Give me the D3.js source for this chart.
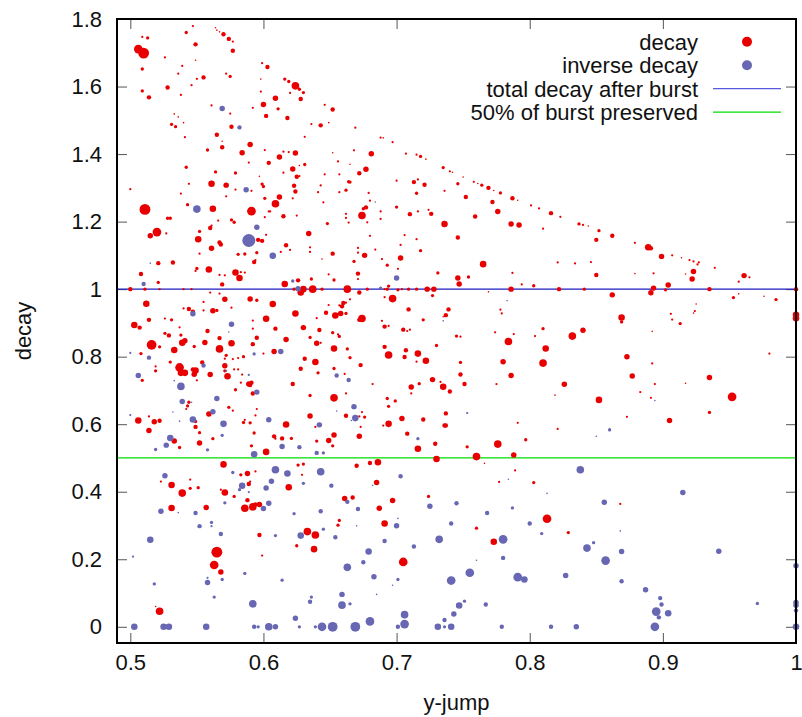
<!DOCTYPE html>
<html>
<head>
<meta charset="utf-8">
<script src="https://cdnjs.cloudflare.com/ajax/libs/d3/7.8.5/d3.min.js"></script>
<style>
  body { margin: 0; background: #fff; }
  svg { display: block; font-family: "Liberation Sans", Arial, Helvetica, sans-serif; }
</style>
</head>
<body>
<div class="vis-container"></div>
<script>
// data: [y-jump, decay, weight]
const decayPoints = [
  [0.547,1.779,1],[0.509,1.747,1],[0.513,1.744,1.5],[0.542,1.760,1.5],[0.564,1.774,0.7],[0.565,1.767,0.7],[0.567,1.762,0.7],[0.570,1.755,2],[0.574,1.741,2],[0.577,1.733,1],
  [0.506,1.711,4],[0.510,1.699,5],[0.577,1.706,2],[0.549,1.725,2],[0.526,1.686,1],[0.549,1.678,0.7],[0.509,1.652,1.5],[0.539,1.661,1],[0.536,1.638,1],[0.555,1.627,2],
  [0.550,1.623,1],[0.572,1.638,1],[0.575,1.630,1.5],[0.599,1.669,1],[0.603,1.658,2],[0.598,1.622,0.7],[0.616,1.622,1.5],[0.619,1.615,1.5],[0.624,1.602,3.5],[0.627,1.592,1.5],
  [0.630,1.582,1.5],[0.628,1.563,2],[0.546,1.604,1],[0.528,1.597,2],[0.509,1.587,1.5],[0.514,1.568,2],[0.538,1.575,1],[0.598,1.585,1],[0.620,1.581,1],[0.609,1.565,2.5],
  [0.600,1.547,2.5],[0.611,1.534,1.5],[0.602,1.513,2],[0.618,1.507,2],[0.646,1.546,1],[0.652,1.532,2],[0.561,1.544,1],[0.592,1.537,1],[0.575,1.520,1],[0.533,1.519,0.7],
  [0.536,1.510,0.7],[0.540,1.493,0.7],[0.531,1.488,1.5],[0.534,1.481,1.5],[0.576,1.481,2],[0.636,1.489,1],[0.643,1.485,2],[0.649,1.493,0.7],[0.565,1.457,2],[0.541,1.450,1],
  [0.631,1.451,1],[0.569,1.438,0.7],[0.569,1.420,2],[0.590,1.428,2.5],[0.558,1.412,1.5],[0.584,1.404,2.5],[0.601,1.412,1],[0.615,1.407,1],[0.619,1.406,1],[0.624,1.403,2.5],
  [0.612,1.391,2.5],[0.652,1.404,0.7],[0.589,1.375,1],[0.604,1.374,2],[0.656,1.378,1],[0.542,1.361,1.5],[0.564,1.347,1.5],[0.579,1.344,1.5],[0.622,1.356,2.5],[0.627,1.366,0.7],
  [0.631,1.369,1.5],[0.615,1.345,1],[0.625,1.333,2],[0.627,1.335,1],[0.597,1.334,0.7],[0.646,1.340,1],[0.657,1.340,1],[0.664,1.318,1.5],[0.544,1.312,1],[0.561,1.312,3],
  [0.572,1.308,2.5],[0.599,1.311,1.5],[0.600,1.304,1.5],[0.623,1.306,2],[0.624,1.289,2],[0.643,1.307,1],[0.641,1.287,1],[0.657,1.287,1],[0.662,1.293,1.5],
  [0.579,1.295,1],[0.591,1.291,1],[0.500,1.296,1],[0.538,1.283,1],[0.572,1.275,1],[0.601,1.269,1.5],[0.612,1.273,2.5],[0.622,1.269,1],[0.609,1.253,3.5],[0.543,1.250,1.5],
  [0.645,1.257,1],[0.511,1.236,5],[0.562,1.238,3],[0.591,1.231,4],[0.615,1.216,2],[0.604,1.230,1],[0.625,1.218,1],[0.662,1.223,1],
  [0.669,1.478,1],[0.688,1.449,1],[0.690,1.448,0.7],[0.697,1.435,1],[0.668,1.411,1],[0.681,1.401,2.5],[0.707,1.401,1],[0.715,1.398,1],[0.718,1.393,1.5],[0.722,1.385,0.7],
  [0.665,1.370,0.7],[0.677,1.355,2.5],[0.672,1.343,2],[0.735,1.360,1.5],[0.740,1.349,1],[0.742,1.346,0.7],[0.665,1.317,1.5],[0.700,1.321,1],[0.713,1.317,2],[0.716,1.325,1],
  [0.721,1.309,2],[0.746,1.312,1.5],[0.750,1.332,0.7],[0.758,1.318,1],[0.761,1.313,0.7],[0.764,1.308,1.5],[0.769,1.300,2],[0.773,1.292,0.7],[0.778,1.285,1.5],[0.787,1.269,2],
  [0.791,1.263,0.7],[0.736,1.291,1],[0.679,1.285,1],[0.715,1.284,1.5],[0.752,1.273,2],[0.680,1.262,1],[0.772,1.258,2],[0.801,1.248,1],[0.807,1.239,1],[0.816,1.225,2],
  [0.823,1.214,1],[0.776,1.230,2.5],[0.677,1.242,2],[0.675,1.238,1.5],[0.674,1.218,3.5],[0.688,1.230,1],[0.700,1.243,1.5],[0.716,1.230,1],[0.710,1.222,2],[0.724,1.235,1],
  [0.726,1.223,2],[0.662,1.211,1],[0.688,1.208,1],[0.759,1.215,2],
  [0.528,1.210,1.5],[0.530,1.210,1.5],[0.520,1.169,4],[0.515,1.158,2.5],[0.527,1.165,1],[0.551,1.148,3],[0.552,1.171,1.5],[0.560,1.181,2],[0.561,1.188,1],[0.566,1.203,1],
  [0.576,1.205,1.5],[0.578,1.198,1.5],[0.601,1.213,1],[0.605,1.230,1],[0.648,1.194,1.5],[0.664,1.197,1],[0.634,1.165,2.5],[0.596,1.146,2],[0.599,1.143,2],[0.602,1.161,1],
  [0.567,1.138,2],[0.568,1.132,2],[0.561,1.121,2.5],[0.581,1.103,1.5],[0.586,1.104,1.5],[0.595,1.108,1.5],[0.617,1.130,2],[0.620,1.116,1],[0.635,1.124,1],[0.635,1.110,1],
  [0.613,1.110,1],[0.652,1.105,2],[0.521,1.077,2],[0.532,1.079,2],[0.552,1.105,1],[0.593,1.080,2],[0.594,1.086,1],[0.644,1.089,0.7],[0.508,1.045,2],[0.521,1.020,1.5],
  [0.550,1.061,1.5],[0.549,1.054,1],[0.559,1.058,3],[0.567,1.042,1],[0.571,1.041,1],[0.579,1.049,3],[0.582,1.033,3],[0.583,1.050,1],[0.586,1.049,1],[0.569,1.014,2],
  [0.616,1.015,3],[0.626,1.026,2],[0.636,1.030,1.5],[0.649,1.044,1],[0.653,1.027,1.5],
  [0.500,1.000,2],[0.511,1.000,1.5],[0.522,1.000,1],[0.540,1.000,1],[0.546,1.000,1],[0.560,0.990,1],[0.567,0.987,1],[0.630,1.000,3],[0.628,0.990,3],[0.637,1.000,3.5],
  [0.644,1.000,1.5],[0.663,1.000,3.5],[0.623,1.000,1.5],
  [0.512,0.957,3],[0.544,0.941,2],[0.547,0.933,2],[0.540,0.943,1],[0.555,0.937,1],[0.562,0.936,2.5],[0.565,0.937,1.5],[0.571,0.970,2.5],[0.555,0.962,1],[0.576,0.945,1],
  [0.590,0.971,2.5],[0.595,0.967,1.5],[0.607,0.956,3],[0.624,0.928,3],[0.647,0.930,2],[0.649,0.953,1],[0.654,0.922,3],[0.658,0.928,2.5],[0.659,0.949,2],[0.662,0.960,1],
  [0.640,0.914,1],[0.602,0.912,3],[0.592,0.907,1],[0.514,0.909,2],[0.503,0.894,3],[0.507,0.886,2],[0.526,0.913,1],[0.531,0.909,1.5],[0.537,0.887,1],[0.592,0.883,1],
  [0.609,0.883,2],[0.630,0.886,2.5],[0.642,0.879,2],[0.652,0.871,1.5],[0.656,0.866,1],[0.657,0.860,1.5],[0.635,0.857,1.5],[0.558,0.876,2],[0.526,0.869,1.5],[0.529,0.863,2],
  [0.538,0.864,1.5],[0.567,0.855,2],[0.595,0.856,2],[0.617,0.851,2.5],[0.516,0.835,4.5],[0.539,0.841,3],[0.541,0.847,2.5],[0.556,0.842,2.5],[0.576,0.840,3],[0.592,0.837,2],
  [0.640,0.840,2.5],[0.643,0.841,1],[0.522,0.829,1.5],[0.533,0.820,3],[0.548,0.830,1.5],[0.567,0.823,3.5],[0.608,0.815,2.5],[0.653,0.824,3],[0.663,0.823,1.5],[0.508,0.809,1.5],
  [0.572,0.804,1.5],[0.571,0.794,1],[0.585,0.800,1.5],[0.577,0.793,1],[0.581,0.796,1],[0.600,0.809,1],[0.631,0.794,2],[0.639,0.784,3],[0.519,0.771,1],[0.519,0.758,1.5],
  [0.530,0.784,1.5],[0.537,0.768,4],[0.538,0.752,3],[0.541,0.752,3],[0.547,0.762,2],[0.549,0.759,3],[0.548,0.748,2.5],[0.554,0.783,2],[0.560,0.747,2.5],[0.571,0.773,2.5],
  [0.571,0.758,1.5],[0.578,0.762,1],[0.581,0.762,1],[0.573,0.742,3],[0.584,0.747,1],[0.628,0.764,2],[0.641,0.752,1.5],[0.653,0.765,1.5],[0.509,0.730,1.5],[0.550,0.730,1],
  [0.583,0.723,1],[0.589,0.719,2.5],[0.591,0.723,2],[0.590,0.716,2],[0.579,0.702,1.5],[0.592,0.691,2],[0.622,0.719,2],[0.635,0.685,1.5],[0.653,0.678,3.5],[0.544,0.665,1.5],
  [0.543,0.654,1.5],[0.542,0.645,1],[0.559,0.630,2.5],[0.560,0.633,1],[0.574,0.650,1.5],[0.577,0.640,1],[0.594,0.626,1],[0.595,0.645,1],[0.585,0.605,1.5],[0.586,0.613,1],
  [0.514,0.623,1],[0.506,0.611,3],[0.518,0.607,2.5],[0.522,0.610,2],[0.549,0.608,1.5],[0.549,0.592,2],[0.617,0.599,3],[0.635,0.624,2.5],[0.662,0.625,2],
  [0.678,1.198,1],[0.736,1.193,3],[0.746,1.153,2],[0.786,1.193,2.5],[0.792,1.190,2.5],[0.810,1.179,1],[0.837,1.193,1.5],[0.840,1.190,1],[0.844,1.187,0.7],[0.680,1.158,1],
  [0.706,1.160,1],[0.715,1.148,1],[0.703,1.131,1],[0.718,1.114,1.5],[0.671,1.122,1],[0.671,1.108,1],[0.684,1.117,1],[0.676,1.100,2.5],[0.689,1.089,1],[0.703,1.092,2.5],
  [0.668,1.082,1.5],[0.701,1.060,1],[0.693,1.071,1.5],[0.671,1.046,2],[0.671,1.030,1],[0.731,1.048,1.5],[0.765,1.074,3],[0.746,1.033,2.5],[0.747,1.015,2.5],[0.754,1.036,1.5],
  [0.787,1.048,1],[0.794,1.014,1],[0.803,1.010,1.5],[0.821,1.079,1],[0.834,1.076,1],[0.694,1.009,1.5],
  [0.672,0.990,2],[0.678,1.000,1.5],[0.691,1.000,1],[0.693,1.000,1.5],[0.701,0.998,1.5],[0.704,1.000,1],[0.709,1.000,1.5],[0.715,1.000,1.5],[0.723,1.000,2.5],[0.728,1.000,2.5],
  [0.786,1.000,2.5],[0.822,1.000,2],[0.841,1.000,1.5],[0.769,0.992,0.7],
  [0.697,0.972,3.5],[0.691,0.976,1],[0.727,0.981,1.5],[0.665,0.970,1],[0.660,0.959,2],[0.657,0.952,1],[0.662,0.928,1.5],[0.674,0.913,3.5],[0.672,0.909,2],[0.709,0.940,2],
  [0.739,0.940,2],[0.737,0.923,2],[0.735,0.918,0.7],[0.720,0.909,1.5],[0.778,0.939,1],[0.779,0.928,1],[0.689,0.906,1],[0.691,0.889,2],[0.694,0.891,1],[0.705,0.880,2],
  [0.708,0.876,1],[0.710,0.880,1],[0.745,0.861,1.5],[0.748,0.859,1],[0.774,0.872,1],[0.788,0.867,1],[0.804,0.861,1],[0.810,0.883,1.5],[0.784,0.845,3.5],[0.832,0.861,3.5],
  [0.840,0.878,2.5],[0.730,0.833,1.5],[0.691,0.829,2],[0.694,0.805,3.5],[0.707,0.819,2],[0.706,0.799,2],[0.716,0.809,3],[0.715,0.785,1],[0.722,0.788,3],[0.665,0.797,1.5],
  [0.673,0.775,2],[0.661,0.749,1],[0.748,0.783,1.5],[0.780,0.785,2.5],[0.812,0.824,3],[0.810,0.781,3.5],[0.786,0.744,2.5],[0.748,0.747,2],[0.682,0.719,1],[0.711,0.710,2.5],
  [0.717,0.720,1.5],[0.727,0.732,2.5],[0.735,0.711,3],[0.733,0.725,1],[0.740,0.697,2],[0.751,0.719,2],[0.775,0.719,1],[0.826,0.718,2.5],[0.662,0.691,1],[0.711,0.691,1],
  [0.693,0.676,1.5],[0.699,0.669,1.5],[0.694,0.653,1.5],[0.676,0.621,1.5],[0.674,0.636,1],[0.672,0.623,1],[0.704,0.617,2.5],[0.720,0.614,2],[0.737,0.632,2],[0.737,0.596,2],
  [0.694,0.601,3],[0.791,0.604,1],[0.821,0.586,1],[0.819,0.686,0.7],
  [0.852,1.173,1.5],[0.850,1.146,2],[0.862,1.158,2],[0.879,1.137,1],[0.889,1.124,3],[0.891,1.121,2],[0.899,1.097,2.5],[0.907,1.100,1],[0.914,1.093,0.7],[0.920,1.086,1],
  [0.923,1.082,1],[0.926,1.073,1],[0.927,1.079,1],[0.939,1.063,1],[0.846,1.080,1],[0.850,1.042,2],[0.879,1.046,0.7],[0.893,1.047,1],[0.923,1.052,2.5],[0.922,1.030,2.5],
  [0.917,1.045,0.7],[0.961,1.040,2.5],[0.957,1.022,1],[0.965,1.035,1],[0.904,1.012,2.5],[0.893,1.003,2.5],[0.902,0.998,1.5],[0.935,1.000,2],[1.000,1.000,2],[0.862,0.983,2.5],
  [0.891,0.989,2.5],[0.953,0.975,1.5],[0.957,0.986,0.7],[0.976,0.979,0.7],[0.985,0.969,1.5],[0.925,0.956,0.7],[0.924,0.935,1],[0.923,0.929,0.7],[0.869,0.916,3],[0.869,0.903,1.5],
  [0.906,0.927,1],[0.907,0.910,1],[0.913,0.898,1.5],[1.000,0.924,3],[1.000,0.914,3],[0.892,0.875,0.7],[1.000,0.845,0.7],[0.873,0.800,2.5],[0.892,0.780,1],[0.980,0.809,1],
  [0.877,0.743,2.5],[0.935,0.738,2.5],[0.894,0.719,1],[0.917,0.721,0.7],[0.883,0.695,1],[0.852,0.672,3],[0.952,0.681,4],[0.891,0.678,1],[0.935,0.635,1.5],[0.873,0.622,1],
  [0.905,0.611,2.5],
  [0.514,0.581,2.5],[0.533,0.550,2.5],[0.537,0.531,1.5],[0.552,0.575,1.5],[0.552,0.544,2.5],[0.562,0.557,1.5],[0.590,0.604,1.5],[0.593,0.574,1.5],[0.591,0.536,1.5],[0.602,0.518,3],
  [0.608,0.564,2],[0.609,0.557,1],[0.614,0.558,2],[0.621,0.558,1.5],[0.639,0.592,1],[0.640,0.550,1.5],[0.649,0.552,2.5],[0.653,0.568,2.5],[0.652,0.536,1.5],[0.570,0.481,3],
  [0.583,0.450,1.5],[0.588,0.454,2.5],[0.590,0.430,1],[0.594,0.460,1],[0.589,0.423,2],[0.626,0.479,1.5],[0.630,0.482,1.5],[0.629,0.450,1],[0.531,0.420,3],[0.539,0.396,3.5],
  [0.545,0.436,1],[0.545,0.410,1.5],[0.551,0.412,1.5],[0.523,0.430,1],[0.568,0.406,1],[0.571,0.398,3],[0.578,0.386,1.5],[0.619,0.413,3],[0.588,0.375,2],[0.586,0.351,3.5],
  [0.592,0.355,3.5],[0.594,0.362,2],[0.597,0.362,2.5],[0.531,0.352,3],[0.557,0.353,2.5],[0.661,0.380,2.5],[0.657,0.315,1.5],[0.656,0.301,1.5],[0.633,0.282,3.5],[0.639,0.272,3.5],
  [0.597,0.272,2],[0.625,0.240,1.5],[0.638,0.230,3],[0.565,0.221,5],[0.599,0.211,1],[0.563,0.183,4],[0.568,0.162,2.5],[0.522,0.046,3.5],[0.519,0.060,0.7],
  [0.690,0.596,1],[0.673,0.592,1],[0.672,0.564,2.5],[0.708,0.572,2],[0.736,0.596,2],[0.729,0.542,2],[0.716,0.527,3],[0.753,0.533,1.5],[0.776,0.541,3.5],[0.797,0.554,1.5],
  [0.730,0.497,3],[0.760,0.504,3.5],[0.788,0.509,2.5],[0.680,0.485,2],[0.686,0.487,3],[0.670,0.477,2],[0.766,0.484,0.7],[0.789,0.463,1],[0.777,0.429,1],[0.803,0.427,1.5],
  [0.685,0.427,2.5],[0.667,0.383,2],[0.697,0.374,2.5],[0.724,0.386,1.5],[0.687,0.351,2.5],[0.691,0.306,3],[0.760,0.292,1.5],[0.773,0.252,3],[0.813,0.320,4],[0.829,0.279,1.5],
  [0.705,0.192,4],[0.868,0.364,1]
];

const inversePoints = [
  [0.569,1.535,2.5],[0.582,1.479,2],[0.587,1.294,2.5],[0.550,1.237,3.5],[0.595,1.183,2.5],[0.589,1.144,6],[0.607,1.099,3],[0.515,1.077,0.7],[0.510,1.015,2],[0.622,1.024,1.5],
  [0.626,1.001,2.5],[0.547,0.927,2.5],[0.576,0.896,2.5],[0.574,0.873,0.7],[0.500,0.811,1],[0.514,0.797,2],[0.555,0.774,2],[0.613,0.815,2.5],[0.593,0.808,1.5],[0.572,0.758,1],
  [0.506,0.744,2.5],[0.589,0.746,1],[0.538,0.712,3.5],[0.595,0.695,2.5],[0.655,0.744,2],[0.664,0.731,2],[0.533,0.729,0.7],[0.539,0.667,2.5],[0.546,0.665,0.7],[0.565,0.676,2.5],
  [0.562,0.637,2.5],[0.532,0.636,0.7],[0.500,0.627,1],[0.547,0.614,3],[0.537,0.609,0.7],[0.570,0.601,3],[0.604,0.613,2.5],[0.655,0.639,0.7],[0.642,0.598,2.5],[0.700,1.033,2.5],
  [0.688,1.003,1.5],[0.783,0.966,0.7],[0.735,0.906,0.7],[0.668,0.652,2.5],[0.669,0.618,3],[0.753,0.633,1],[0.666,0.611,0.7],[0.894,0.670,0.7],[0.860,0.587,0.7],[0.684,1.258,0.7],
  [0.530,0.559,3],[0.527,0.538,2.5],[0.519,0.525,1.5],[0.569,0.567,1.5],[0.558,0.524,1.5],[0.593,0.511,3],[0.614,0.534,2.5],[0.627,0.532,2],[0.640,0.515,2],[0.645,0.515,1.5],
  [0.526,0.447,2.5],[0.577,0.457,1.5],[0.584,0.418,3],[0.582,0.406,1.5],[0.589,0.399,1],[0.609,0.465,3.5],[0.618,0.454,3],[0.606,0.431,2.5],[0.602,0.411,2.5],[0.630,0.425,1.5],
  [0.643,0.459,3.5],[0.651,0.418,2],[0.571,0.367,1.5],[0.604,0.366,2.5],[0.600,0.350,2.5],[0.523,0.342,2.5],[0.536,0.338,0.7],[0.549,0.337,2],[0.561,0.309,1.5],[0.561,0.298,1],
  [0.552,0.298,2],[0.623,0.335,1.5],[0.643,0.342,2],[0.645,0.289,1.5],[0.628,0.270,3],[0.654,0.265,2],[0.568,0.275,2],[0.609,0.270,1.5],[0.515,0.258,3],[0.502,0.208,1],
  [0.663,0.176,3.5],[0.586,0.158,1.5],[0.569,0.140,1.5],[0.558,0.131,2.5],[0.558,0.145,1],[0.614,0.138,1.5],[0.518,0.127,1.5],[0.563,0.088,1.5],[0.592,0.068,3.5],[0.636,0.088,1.5],
  [0.635,0.074,2],[0.659,0.096,2.5],[0.659,0.064,3.5],[0.624,0.025,2.5],[0.503,0,3],[0.525,0,3],[0.529,0,3],[0.557,0,3],[0.593,0,2],[0.596,0,1.5],
  [0.604,0,3.5],[0.609,0,2.5],[0.627,0,1.5],[0.639,0,1.5],[0.644,0,4],[0.652,0,4.5],
  [0.716,0.557,1.5],[0.703,0.446,2],[0.682,0.419,0.7],[0.663,0.370,2],[0.671,0.349,2],[0.725,0.357,2.5],[0.745,0.366,2],[0.784,0.437,0.7],[0.787,0.352,1.5],[0.768,0.337,2],
  [0.838,0.465,3.5],[0.813,0.395,0.7],[0.800,0.306,2],[0.809,0.276,1.5],[0.701,0.321,0.7],[0.700,0.299,2.5],[0.670,0.299,0.7],[0.741,0.306,2],[0.732,0.259,3.5],[0.780,0.259,4],
  [0.691,0.254,2],[0.713,0.238,2],[0.843,0.233,3.5],[0.679,0.223,3],[0.675,0.191,2],[0.760,0.197,0.7],[0.780,0.204,2],[0.755,0.160,4],[0.741,0.137,4],[0.791,0.147,4],
  [0.796,0.140,3],[0.827,0.152,2.5],[0.683,0.148,2.5],[0.701,0.140,1.5],[0.697,0.123,0.7],[0.685,0.096,0.7],[0.665,0.068,1.5],[0.747,0.063,3],[0.751,0.076,1.5],[0.743,0.038,2.5],
  [0.767,0.066,2],[0.706,0.036,3.5],[0.706,0.008,4],[0.680,0.016,4],[0.669,0,4.5],[0.701,0,2],[0.736,0.020,2],[0.731,0,3],[0.736,0,1.5],[0.741,0,3],
  [0.779,0,2],[0.816,0,2],[0.835,0,2.5],
  [0.860,0.583,1.5],[0.850,0.564,0.7],[0.915,0.398,2.5],[0.856,0.369,2.5],[1.000,0.401,0.7],[0.868,0.284,0.7],[0.848,0.249,1.5],[0.869,0.223,2.5],[0.942,0.224,2.5],[0.857,0.196,4],
  [0.869,0.135,2],[0.887,0.110,2.5],[0.898,0.085,2],[0.899,0.066,2],[0.895,0.045,4],[0.897,0.028,2],[0.904,0.040,3],[0.894,0,4],[0.971,0.069,1.5],[1.000,0.181,2.5],
  [1.000,0.072,2.5],[1.000,0.064,2.5],[1.000,0.048,2],[1.000,0,3]
];

const xTicks = [0.5, 0.6, 0.7, 0.8, 0.9, 1];
const yTicks = [0, 0.2, 0.4, 0.6, 0.8, 1, 1.2, 1.4, 1.6, 1.8];
const refLines = [1, 0.5]; // total decay after burst, 50% preserved
const legendLabels = ["decay", "inverse decay", "total decay after burst", "50% of burst preserved"];

const width = 802;
const height = 717;
const margin = { top: 19, right: 6, bottom: 74, left: 117 };

const red = "#e80000";
const blue = "#6767b3";
const lineBlue = "#1c1cc0";
const lineGreen = "#00dd00";

const svg = d3
  .select(".vis-container")
  .append("svg")
  .attr("width", width)
  .attr("height", height);

const xScale = d3
  .scaleLinear()
  .domain([0.49, 1])
  .range([margin.left, width - margin.right]);

const yScale = d3
  .scaleLinear()
  .domain([-0.048, 1.8])
  .range([height - margin.bottom, margin.top]);

// weight -> radius in px
const rScale = d3.scaleLinear().domain([0.7, 6]).range([0.8, 6.5]);

const fmt = (d) => String(d);

// axes (ticks point inwards, mirrored on top / right)
svg
  .append("g")
  .attr("transform", `translate(0, ${height - margin.bottom})`)
  .call(d3.axisBottom(xScale).tickValues(xTicks).tickFormat(fmt).tickSizeInner(-10).tickSizeOuter(0).tickPadding(11));

svg
  .append("g")
  .attr("transform", `translate(${margin.left}, 0)`)
  .call(d3.axisLeft(yScale).tickValues(yTicks).tickFormat(fmt).tickSizeInner(-10).tickSizeOuter(0).tickPadding(15));

svg
  .append("g")
  .attr("transform", `translate(0, ${margin.top})`)
  .call(d3.axisTop(xScale).tickValues(xTicks).tickFormat("").tickSizeInner(-10).tickSizeOuter(0));

svg
  .append("g")
  .attr("transform", `translate(${width - margin.right}, 0)`)
  .call(d3.axisRight(yScale).tickValues(yTicks).tickFormat("").tickSizeInner(-10).tickSizeOuter(0));

svg.selectAll(".domain").remove();
svg.selectAll(".tick line").attr("stroke", "#555").attr("stroke-width", 1);
svg.selectAll(".tick text").attr("font-size", 22).attr("fill", "#111").style("font-family", "Liberation Sans, Arial, sans-serif");

// reference lines
svg
  .selectAll(".ref")
  .data(refLines)
  .enter()
  .append("line")
  .attr("x1", margin.left)
  .attr("x2", width - margin.right)
  .attr("y1", (d) => yScale(d))
  .attr("y2", (d) => yScale(d))
  .attr("stroke", (d, i) => (i === 0 ? lineBlue : lineGreen))
  .attr("stroke-width", 1.3);

// points
svg
  .append("g")
  .selectAll("circle")
  .data(decayPoints)
  .enter()
  .append("circle")
  .attr("cx", (d) => xScale(d[0]))
  .attr("cy", (d) => yScale(d[1]))
  .attr("r", (d) => rScale(d[2]))
  .attr("fill", red);

svg
  .append("g")
  .selectAll("circle")
  .data(inversePoints)
  .enter()
  .append("circle")
  .attr("cx", (d) => xScale(d[0]))
  .attr("cy", (d) => yScale(d[1]))
  .attr("r", (d) => rScale(d[2]))
  .attr("fill", blue);

// frame
svg
  .append("rect")
  .attr("x", margin.left)
  .attr("y", margin.top)
  .attr("width", width - margin.right - margin.left)
  .attr("height", height - margin.bottom - margin.top)
  .attr("fill", "none")
  .attr("stroke", "#000")
  .attr("stroke-width", 2);

// axis titles
svg
  .append("text")
  .attr("x", (margin.left + width - margin.right) / 2)
  .attr("y", 710)
  .attr("text-anchor", "middle")
  .attr("font-size", 22)
  .attr("fill", "#111")
  .text("y-jump");

svg
  .append("text")
  .attr("transform", `translate(31, ${(margin.top + height - margin.bottom) / 2}) rotate(-90)`)
  .attr("text-anchor", "middle")
  .attr("font-size", 22)
  .attr("fill", "#111")
  .text("decay");

// legend
const legend = svg.append("g");
legendLabels.forEach((label, i) => {
  const cy = 41.7 + i * 23.5;
  legend
    .append("text")
    .attr("x", 698)
    .attr("y", cy + 8)
    .attr("text-anchor", "end")
    .attr("font-size", 22)
    .attr("fill", "#111")
    .text(label);
  if (i < 2) {
    legend
      .append("circle")
      .attr("cx", 747)
      .attr("cy", cy)
      .attr("r", 5)
      .attr("fill", i === 0 ? red : blue);
  } else {
    legend
      .append("line")
      .attr("x1", 713)
      .attr("x2", 781)
      .attr("y1", cy)
      .attr("y2", cy)
      .attr("stroke", i === 2 ? "#5a5ae0" : lineGreen)
      .attr("stroke-width", 1.3);
  }
});
</script>
</body>
</html>
